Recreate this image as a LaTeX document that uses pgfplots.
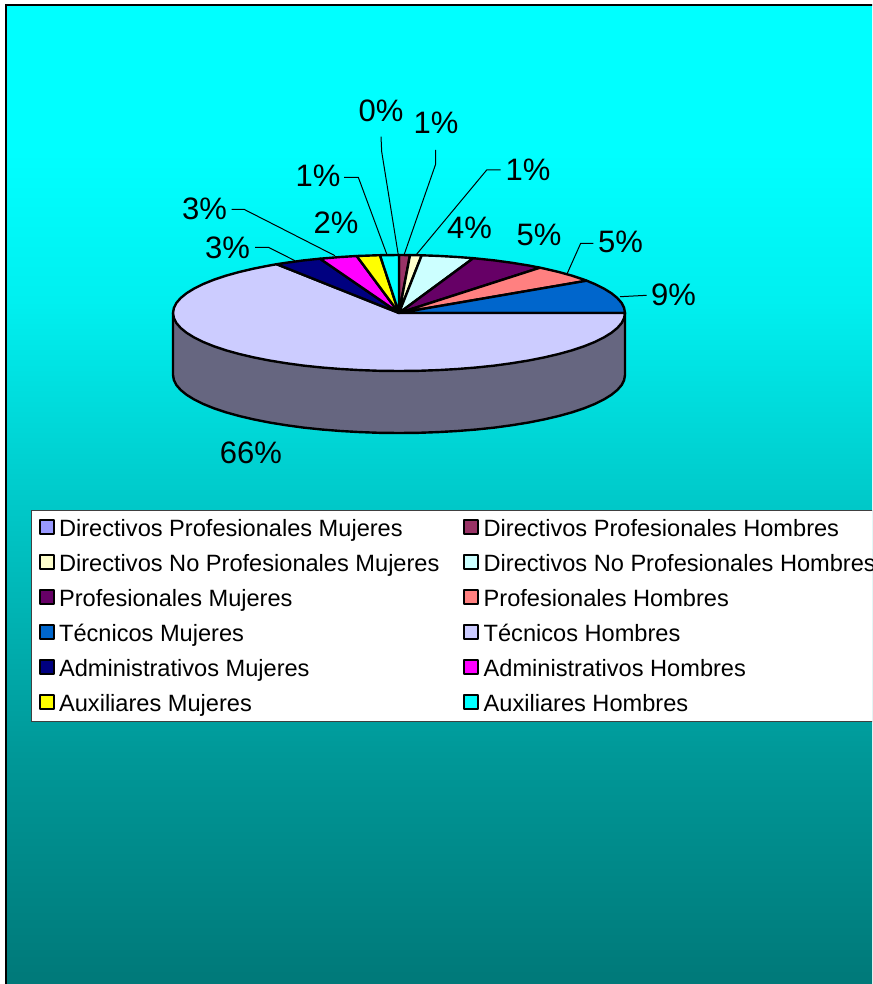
\documentclass[border=0pt]{standalone}
\usepackage{pgfplots}
\pgfplotsset{compat=1.18}
\usepackage{fontspec}
\setmainfont{Liberation Sans}
\definecolor{cA}{HTML}{9999FF}
\definecolor{cB}{HTML}{993366}
\definecolor{cC}{HTML}{FFFFCC}
\definecolor{cD}{HTML}{CCFFFF}
\definecolor{cE}{HTML}{660066}
\definecolor{cF}{HTML}{FF8080}
\definecolor{cG}{HTML}{0066CC}
\definecolor{cH}{HTML}{CCCCFF}
\definecolor{cI}{HTML}{000080}
\definecolor{cJ}{HTML}{FF00FF}
\definecolor{cK}{HTML}{FFFF00}
\definecolor{cL}{HTML}{00FFFF}
\definecolor{cS}{HTML}{666680}
\definecolor{gA}{HTML}{00FFFF}
\definecolor{gB}{HTML}{00F0F0}
\definecolor{gC}{HTML}{00C8C8}
\definecolor{gD}{HTML}{009898}
\definecolor{gE}{HTML}{007878}
\pgfdeclareverticalshading{bgshade}{100bp}{color(0bp)=(gE); color(25bp)=(gE); color(37bp)=(gD); color(49.5bp)=(gC); color(60bp)=(gB); color(67.5bp)=(gA); color(100bp)=(gA)}
\pgfplotsset{
  wedge/.style={draw=black,line width=2.4pt,line join=round,fill=#1,
    legend image code/.code={\draw[draw=black,line width=2pt,fill=#1] (1pt,-6pt) rectangle (15pt,8pt);}},
  leader/.style={draw=black,line width=1pt,forget plot},
}
\begin{document}
\begin{tikzpicture}[x=1pt,y=1pt]
\path[use as bounding box] (0,0) rectangle (872,984);
\clip (0,0) rectangle (872,984);
\begin{axis}[
  at={(0,0)},anchor=south west,
  scale only axis,width=872pt,height=984pt,
  xmin=0,xmax=872,ymin=0,ymax=984,y dir=reverse,
  hide axis,clip=false,
  legend columns=2,
  legend cell align=left,
  legend style={at={(axis cs:31,510)},anchor=north west,draw=black!75,line width=1pt,fill=white,
    font=\fontsize{23.6}{23.6}\selectfont,inner xsep=7pt,inner ysep=7.6pt,
    row sep=14.5pt,
    /tikz/every even column/.append style={column sep=19pt},
    nodes={inner xsep=4.6pt,inner ysep=0pt,text height=18pt,text depth=2.5pt}},
]
\shade[shading=bgshade] (axis cs:7,5) rectangle (axis cs:880,990);
\draw[black,line width=2pt] (axis cs:6,990) -- (axis cs:6,5) -- (axis cs:880,5);
% side of the pie
\addplot[draw=black,line width=2.4pt,line join=round,fill=cS,forget plot] coordinates {
(173,313)(173,375)(173.9,380.1)(176.4,385.1)(180.7,390)(186.6,394.8)(194.2,399.5)(203.3,404)(213.9,408.3)(225.9,412.3)(239.2,416)(253.7,419.4)(269.4,422.5)(286,425.2)(303.5,427.6)(321.7,429.5)(340.5,431)(359.8,432.1)(379.3,432.8)(399,433)(418.7,432.8)(438.2,432.1)(457.5,431)(476.3,429.5)(494.5,427.6)(512,425.2)(528.6,422.5)(544.3,419.4)(558.8,416)(572.1,412.3)(584.1,408.3)(594.7,404)(603.8,399.5)(611.4,394.8)(617.3,390)(621.6,385.1)(624.1,380.1)(625,375)(625,313)} -- cycle;
% wedges
\addplot[wedge=cA] coordinates {(399,313)(398.8,255)(399,255)} -- cycle;
\addlegendentry{Directivos Profesionales Mujeres}
\addplot[wedge=cB] coordinates {(399,313)(399,255)(410,255.1)} -- cycle;
\addlegendentry{Directivos Profesionales Hombres}
\addplot[wedge=cC] coordinates {(399,313)(410,255.1)(418.7,255.2)(421.7,255.3)} -- cycle;
\addlegendentry{Directivos No Profesionales Mujeres}
\addplot[wedge=cD] coordinates {(399,313)(421.7,255.3)(438.2,255.9)(457.5,257)(473.3,258.2)} -- cycle;
\addlegendentry{Directivos No Profesionales Hombres}
\addplot[wedge=cE] coordinates {(399,313)(473.3,258.2)(476.3,258.5)(494.5,260.4)(512,262.8)(528.6,265.5)(540,267.7)} -- cycle;
\addlegendentry{Profesionales Mujeres}
\addplot[wedge=cF] coordinates {(399,313)(540,267.7)(544.3,268.6)(558.8,272)(572.1,275.7)(584.1,279.7)(586.7,280.7)} -- cycle;
\addlegendentry{Profesionales Hombres}
\addplot[wedge=cG] coordinates {(399,313)(586.7,280.7)(594.7,284)(603.8,288.5)(611.4,293.2)(617.3,298)(621.6,302.9)(624.1,307.9)(625,313)} -- cycle;
\addlegendentry{Técnicos Mujeres}
\addplot[wedge=cH] coordinates {(399,313)(625,313)(624.1,318.1)(621.6,323.1)(617.3,328)(611.4,332.8)(603.8,337.5)(594.7,342)(584.1,346.3)(572.1,350.3)(558.8,354)(544.3,357.4)(528.6,360.5)(512,363.2)(494.5,365.6)(476.3,367.5)(457.5,369)(438.2,370.1)(418.7,370.8)(399,371)(379.3,370.8)(359.8,370.1)(340.5,369)(321.7,367.5)(303.5,365.6)(286,363.2)(269.4,360.5)(253.7,357.4)(239.2,354)(225.9,350.3)(213.9,346.3)(203.3,342)(194.2,337.5)(186.6,332.8)(180.7,328)(176.4,323.1)(173.9,318.1)(173,313)(173.9,307.9)(176.4,302.9)(180.7,298)(186.6,293.2)(194.2,288.5)(203.3,284)(213.9,279.7)(225.9,275.7)(239.2,272)(253.7,268.6)(269.4,265.5)(276.7,264.2)} -- cycle;
\addlegendentry{Técnicos Hombres}
\addplot[wedge=cI] coordinates {(399,313)(276.7,264.2)(286,262.8)(303.5,260.4)(320,258.7)} -- cycle;
\addlegendentry{Administrativos Mujeres}
\addplot[wedge=cJ] coordinates {(399,313)(320,258.7)(340.5,257)(356.7,256)} -- cycle;
\addlegendentry{Administrativos Hombres}
\addplot[wedge=cK] coordinates {(399,313)(356.7,256)(359.8,255.9)(379.3,255.2)(380,255.2)} -- cycle;
\addlegendentry{Auxiliares Mujeres}
\addplot[wedge=cL] coordinates {(399,313)(380,255.2)(399,255)} -- cycle;
\addlegendentry{Auxiliares Hombres}
% leader lines
\addplot[leader] coordinates {(381,136.7)(381.7,151.7)(398.3,255)};
\addplot[leader] coordinates {(435.7,150)(435.7,164)(404,255)};
\addplot[leader] coordinates {(500.7,170)(486.7,170)(416,255)};
\addplot[leader] coordinates {(344,177.3)(358.3,177.3)(386.7,254)};
\addplot[leader] coordinates {(231.7,209.3)(244,209.3)(335,255.7)};
\addplot[leader] coordinates {(255,247.3)(268.3,247.3)(295,260.7)};
\addplot[leader] coordinates {(593.3,243.3)(580.7,243.3)(567.3,273.3)};
\addplot[leader] coordinates {(646.7,295.3)(620,296.7)};
% data labels
\foreach \px/\py/\t in {381/110.5/0,436/123/1,528/170/1,318/176/1,336/223/2,204.5/209/3,227.5/248/3,469.5/228/4,539/234.5/5,620.5/242/5,673.5/295/9,251/453/66}{
  \edef\tmp{\noexpand\node[font=\noexpand\fontsize{31}{31}\noexpand\selectfont,inner sep=0pt] at (axis cs:\px,\py) {\t\noexpand\%};}
  \tmp
}
\end{axis}
\end{tikzpicture}
\end{document}
